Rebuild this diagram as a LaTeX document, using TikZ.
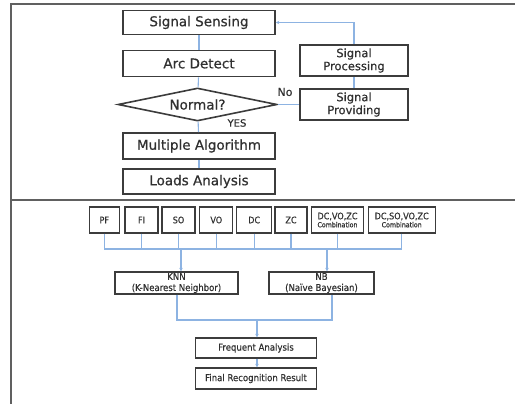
\documentclass[tikz,border=0pt]{standalone}
\usepackage{fontspec}
\setmainfont{DejaVu Sans}
\newfontfamily\upfont{DejaVu Sans}[UprightFeatures={FakeBold=0.7}]
\newfontfamily\lowfont{DejaVu Sans Condensed}[UprightFeatures={FakeBold=0.5}]
\usetikzlibrary{shapes.geometric,arrows.meta}
\definecolor{boxc}{HTML}{3C3C3C}
\definecolor{linec}{HTML}{8DB3E2}
\definecolor{framec}{HTML}{606060}
\definecolor{txtc}{HTML}{303030}
\tikzset{
  ubox/.style={draw=boxc, line width=1.6pt, inner sep=0pt, minimum width=152pt, text=txtc, font=\upfont\fontsize{13.5}{15}\selectfont},
  rbox/.style={draw=boxc, line width=1.6pt, inner sep=0pt, minimum width=108pt, minimum height=31pt, text=txtc, align=center, font=\upfont\fontsize{11.5}{13}\selectfont},
  lbox/.style={draw=boxc, line width=1.3pt, inner sep=0pt, minimum height=26pt, text=txtc, align=center, font=\lowfont\fontsize{9}{10}\selectfont},
  mbox/.style={draw=boxc, line width=1.3pt, inner sep=0pt, text=txtc, align=center, font=\lowfont\fontsize{9.5}{11}\selectfont},
  conn/.style={draw=linec, line width=1.1pt},
  arr/.style={conn, -{Stealth[length=3.5pt,width=3.5pt]}},
  lbl/.style={text=txtc, inner sep=0pt}
}
\begin{document}
\begin{tikzpicture}[x=1pt,y=-1pt]
\useasboundingbox (0,0) rectangle (515,404);
% frame
\draw[framec, line width=1.3pt] (11,404) -- (11,4) -- (515,4);
\draw[framec, line width=1.3pt] (11,200) -- (515,200);
% upper flow
\node[ubox, minimum height=24pt] (sense) at (199,22.5) {Signal Sensing};
\node[ubox, minimum height=26pt] (arc) at (199,63.5) {Arc Detect};
\node[draw=boxc, line width=1.6pt, diamond, aspect=4.8, inner sep=0pt, minimum width=159pt, minimum height=33pt, text=txtc, font=\upfont\fontsize{13.5}{15}\selectfont] (norm) at (197.5,104.5) {Normal?};
\node[ubox, minimum height=26pt] (multi) at (199,146) {Multiple Algorithm};
\node[ubox, minimum height=25pt] (loads) at (199,181.5) {Loads Analysis};
\node[rbox] (proc) at (354,60.5) {Signal\\Processing};
\node[rbox] (prov) at (354,104.5) {Signal\\Providing};
\node[lbl, font=\upfont\fontsize{11}{12}\selectfont] (no) at (285,92) {No};
\node[lbl, font=\upfont\fontsize{10}{11}\selectfont] (yes) at (237,123) {YES};
\draw[conn] (sense) -- (arc);
\draw[conn] (arc) -- (norm);
\draw[conn] (norm) -- (multi);
\draw[conn] (multi) -- (loads);
\draw[conn] (norm.east) -- (prov.west);
\draw[conn] (prov) -- (proc);
\draw[arr] (proc.north) |- (sense.east);
% lower flow
\node[lbox, minimum width=30pt] (pf) at (104.3,220) {PF};
\node[lbox, minimum width=33pt] (fi) at (141.5,220) {FI};
\node[lbox, minimum width=33pt] (so) at (178.5,220) {SO};
\node[lbox, minimum width=33pt] (vo) at (216.3,220) {VO};
\node[lbox, minimum width=35pt] (dc) at (254.2,220) {DC};
\node[lbox, minimum width=32pt] (zc) at (291,220) {ZC};
\node[lbox, minimum width=52pt] (c1) at (337.5,220) {DC,VO,ZC\\[-2pt]{\fontsize{7}{8}\selectfont Combination}};
\node[lbox, minimum width=67pt] (c2) at (401.7,220) {DC,SO,VO,ZC\\[-2pt]{\fontsize{7}{8}\selectfont Combination}};
\coordinate (busL) at (104.3,249);
\coordinate (busR) at (401.7,249);
\foreach \n in {pf,fi,so,vo,dc,zc,c1,c2}{
  \draw[conn] (\n.south) -- (\n.south |- busL);
}
\draw[conn] (busL) -- (busR);
\node[mbox, minimum width=123pt, minimum height=22pt] (knn) at (176.5,283) {KNN\\(K-Nearest Neighbor)};
\node[mbox, minimum width=105pt, minimum height=22pt] (nb) at (321.5,283) {NB\\(Naïve Bayesian)};
\coordinate (bk) at (181,249);
\coordinate (bn) at (327,249);
\draw[arr] (bk) -- (bk |- knn.north);
\draw[arr] (bn) -- (bn |- nb.north);
\node[mbox, minimum width=121pt, minimum height=20pt] (fa) at (256,348) {Frequent Analysis};
\node[mbox, minimum width=121pt, minimum height=21pt] (fin) at (256,378.5) {Final Recognition Result};
\coordinate (mk) at (177,320);
\coordinate (mn) at (332,320);
\coordinate (mf) at (257,320);
\draw[conn] (mk |- knn.south) -- (mk) -- (mn) -- (mn |- nb.south);
\draw[arr] (mf) -- (mf |- fa.north);
\draw[arr] (fa.south -| mf) -- (mf |- fin.north);
\end{tikzpicture}
\end{document}
